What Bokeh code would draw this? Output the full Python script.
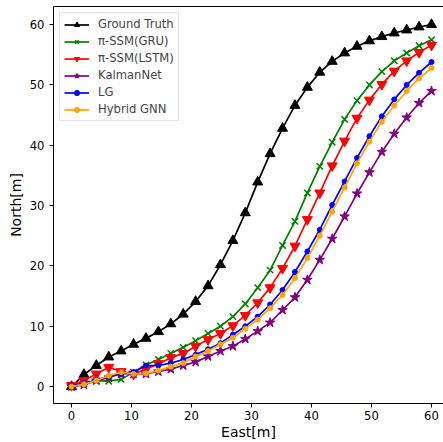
import numpy as np
from bokeh.plotting import figure
from bokeh.models import LinearAxis, Range1d, FixedTicker, Legend
from bokeh.embed import file_html
from bokeh.resources import INLINE

east = list(np.linspace(0, 60, 30))

ground_truth = [0, 2.0, 3.5, 4.9, 5.9, 7.0, 8.0, 9.1, 10.4, 12.0, 14.1, 16.7, 20.2, 24.2, 28.8,
                33.9, 38.6, 42.8, 46.6, 49.6, 52.1, 53.9, 55.3, 56.4, 57.3, 58.0, 58.6, 59.1, 59.6, 60.0]
ssm_gru = [0, 0.5, 1.0, 0.9, 1.2, 2.4, 3.6, 4.5, 5.5, 6.5, 7.6, 8.8, 10.0, 11.6, 13.7,
           16.4, 19.3, 23.4, 27.4, 32.1, 36.5, 40.5, 44.3, 47.4, 50.0, 52.2, 54.0, 55.3, 56.5, 57.5]
ssm_lstm = [0.2, 1.0, 2.1, 3.2, 2.5, 2.1, 2.9, 3.8, 4.8, 5.5, 6.7, 7.8, 8.8, 10.1, 11.8,
            13.9, 16.4, 19.6, 23.3, 27.7, 32.1, 36.6, 40.7, 44.5, 47.5, 50.1, 52.3, 54.0, 55.4, 56.6]
kalmannet = [0, 0.3, 1.0, 1.5, 2.2, 2.1, 2.1, 2.5, 2.9, 3.5, 4.1, 5.0, 5.9, 6.7, 7.9,
             9.2, 10.6, 12.7, 14.8, 17.7, 21.0, 24.5, 28.2, 32.0, 35.5, 38.9, 41.9, 44.6, 47.0, 49.0]
lg = [0.1, 0.6, 1.1, 1.7, 2.1, 2.4, 3.5, 3.5, 3.9, 4.5, 5.3, 6.2, 7.2, 8.6, 10.0,
      11.6, 13.6, 16.0, 19.0, 22.4, 26.0, 30.1, 34.0, 37.9, 41.5, 44.8, 47.6, 50.0, 52.0, 53.8]
hybrid_gnn = [0, 0.4, 1.0, 1.8, 2.4, 2.1, 2.2, 2.65, 3.3, 3.9, 5.0, 5.9, 7.0, 8.1, 9.6,
              11.1, 13.0, 15.2, 18.0, 21.3, 25.0, 29.0, 33.0, 37.0, 40.6, 43.9, 46.6, 49.0, 51.1, 52.8]

ticks = [0, 10, 20, 30, 40, 50, 60]

series = [
    ("Ground Truth", ground_truth, "black", "triangle", 10),
    ("π-SSM(GRU)", ssm_gru, "#008000", "x", 9),
    ("π-SSM(LSTM)", ssm_lstm, "#ff0000", "inverted_triangle", 10),
    ("KalmanNet", kalmannet, "#800080", "star", 10),
    ("LG", lg, "#0000ff", "circle", 5),
    ("Hybrid GNN", hybrid_gnn, "#ffa500", "circle", 5),
]

FONT = "DejaVu Sans"

p = figure(width=443, height=442, output_backend="svg", toolbar_location=None,
           x_range=Range1d(-3, 62), y_range=Range1d(-2.8, 63),
           min_border_left=53, min_border_right=0, min_border_top=6, min_border_bottom=38)
p.outline_line_color = None
p.xgrid.visible = False
p.ygrid.visible = False

items = []
for name, ys, color, marker, size in series:
    r1 = p.line(east, ys, line_color=color, line_width=1.7)
    r2 = p.scatter(east, ys, marker=marker, size=size, line_color=color, fill_color=color,
                   line_width=1.5 if marker == "x" else 1)
    items.append((name, [r1, r2]))

legend = Legend(items=items, location="top_left")
legend.label_text_font = FONT
legend.label_text_font_size = "11.6px"
legend.glyph_width = 25
legend.glyph_height = 13
legend.label_height = 13
legend.label_standoff = 9
legend.spacing = 3
legend.padding = 4
legend.margin = 6
legend.border_line_color = "#cccccc"
legend.border_line_width = 1
legend.background_fill_alpha = 0.8
p.add_layout(legend)

for ax in (p.xaxis[0], p.yaxis[0]):
    ax.ticker = FixedTicker(ticks=ticks)
    ax.major_label_text_font = FONT
    ax.major_label_text_font_size = "11.6px"
    ax.major_label_text_color = "black"
    ax.axis_label_text_font = FONT
    ax.axis_label_text_font_size = "14px"
    ax.axis_label_text_font_style = "normal"
    ax.axis_label_text_color = "black"
    ax.minor_tick_line_color = None
    ax.major_tick_in = 0
    ax.major_tick_out = 4
    ax.axis_line_color = "black"
    ax.major_tick_line_color = "black"
    ax.axis_line_width = 1

p.xaxis.axis_label = "East[m]"
p.yaxis.axis_label = "North[m]"
p.xaxis.axis_label_standoff = 1
p.yaxis.axis_label_standoff = 3
p.xaxis.major_label_standoff = 3
p.yaxis.major_label_standoff = 5

top = LinearAxis(ticker=FixedTicker(ticks=[]), major_label_text_font_size="0px",
                 major_tick_line_color=None, minor_tick_line_color=None,
                 major_tick_out=0, major_label_standoff=0,
                 axis_line_color="black", axis_line_width=1)
p.add_layout(top, "above")

open("out.html", "w").write(file_html(p, INLINE))
